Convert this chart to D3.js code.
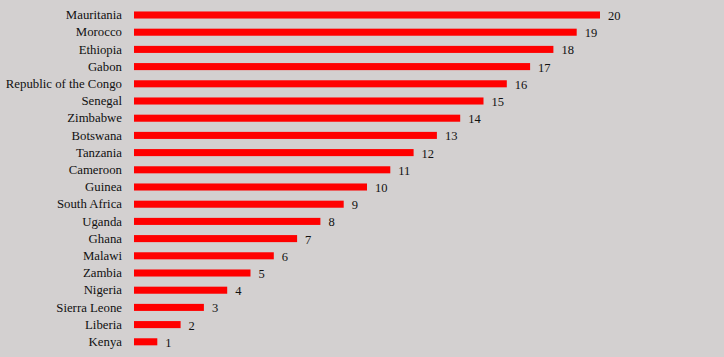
<!DOCTYPE html>
<html><head><meta charset="utf-8">
<script src="https://cdn.jsdelivr.net/npm/d3@7"></script>
<style>html,body{margin:0;padding:0;background:#d3d0d0;}svg{display:block;}</style>
</head><body>
<script>
const countries = ["Mauritania","Morocco","Ethiopia","Gabon","Republic of the Congo","Senegal","Zimbabwe","Botswana","Tanzania","Cameroon","Guinea","South Africa","Uganda","Ghana","Malawi","Zambia","Nigeria","Sierra Leone","Liberia","Kenya"];
const values = [20,19,18,17,16,15,14,13,12,11,10,9,8,7,6,5,4,3,2,1];

const W = 724, H = 357;
const svg = d3.select("body").append("svg").attr("width", W).attr("height", H);
svg.append("rect").attr("width", W).attr("height", H).attr("fill", "#d3d0d0");

const x = d3.scaleLinear().domain([0, 20]).range([134, 600]);
const y = d3.scaleBand().domain(countries).range([6.4, 350.4]).paddingInner(0.59).paddingOuter(0.295);

const font = "'Liberation Serif', 'Times New Roman', serif";
const g = svg.append("g");
g.selectAll("rect.bar").data(countries).join("rect").attr("class","bar")
  .attr("x", x(0)).attr("y", d => y(d))
  .attr("width", (d,i) => x(values[i]) - x(0))
  .attr("height", y.bandwidth()).attr("fill", "#ff0000");

const yAxis = d3.axisLeft(y).tickSize(0).tickPadding(12);
const ya = svg.append("g").attr("transform", `translate(${x(0)},0)`).call(yAxis);
ya.select(".domain").remove();
ya.selectAll("text").attr("font-family", font).attr("font-size", 12.8).attr("fill", "#111");

g.selectAll("text.val").data(countries).join("text").attr("class","val")
  .attr("x", (d,i) => x(values[i]) + 8)
  .attr("y", d => y(d) + y.bandwidth()/2 + 5)
  .attr("font-family", font).attr("font-size", 12.5).attr("fill", "#111")
  .text((d,i) => values[i]);
</script>
</body></html>
